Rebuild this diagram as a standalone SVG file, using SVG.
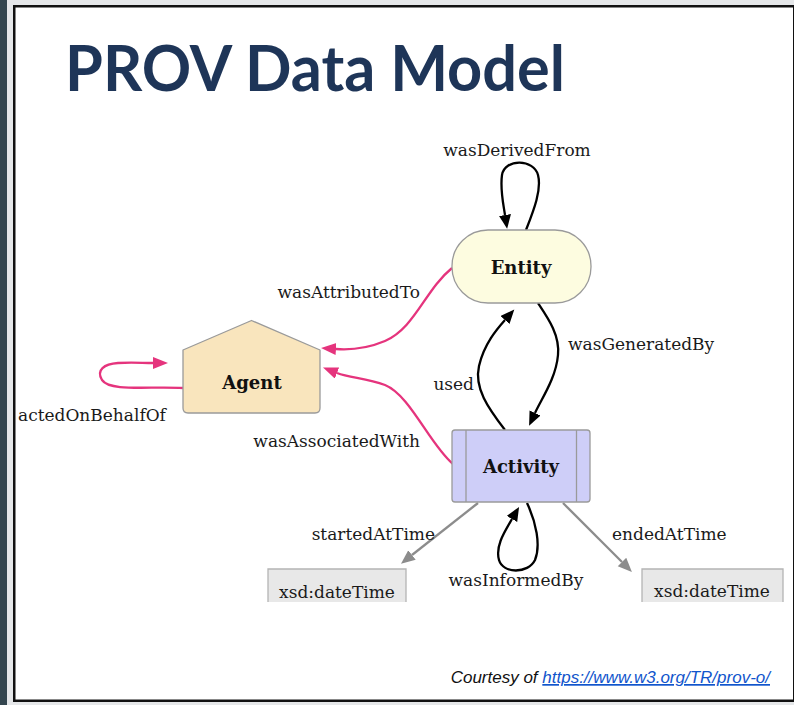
<svg xmlns="http://www.w3.org/2000/svg" width="794" height="705" viewBox="0 0 794 705">
  <defs>
    <style>
      .lbl { font-family: "DejaVu Serif", "Liberation Serif", serif; font-size: 17px; fill: #1a1a1a; }
      .node-lbl { font-family: "DejaVu Serif", "Liberation Serif", serif; font-size: 18px; font-weight: bold; fill: #111; text-anchor: middle; }
      .node { stroke: #9a9a9a; stroke-width: 1.3; }
      .e-black { fill: none; stroke: #000; stroke-width: 2.3; marker-end: url(#arrowBlack); }
      .e-pink { fill: none; stroke: #e5347d; stroke-width: 2.3; marker-end: url(#arrowPink); }
      .e-grey { fill: none; stroke: #8c8c8c; stroke-width: 2.3; marker-end: url(#arrowGrey); }
    </style>
    <marker id="arrowBlack" markerUnits="userSpaceOnUse" markerWidth="16" markerHeight="14" refX="0" refY="6" orient="auto">
      <path d="M0,0 L14,6 L0,12 z" fill="#000"/>
    </marker>
    <marker id="arrowPink" markerUnits="userSpaceOnUse" markerWidth="17" markerHeight="14" refX="0" refY="6" orient="auto">
      <path d="M0,0 L15,6 L0,12 z" fill="#e5347d"/>
    </marker>
    <marker id="arrowGrey" markerUnits="userSpaceOnUse" markerWidth="16" markerHeight="14" refX="0" refY="6" orient="auto">
      <path d="M0,0 L14,6 L0,12 z" fill="#8c8c8c"/>
    </marker>
  </defs>

  <!-- slide frame -->
  <rect x="0" y="0" width="794" height="705" fill="#e5e7e9"/>
  <rect x="0" y="0" width="7" height="705" fill="#34464f"/>
  <rect x="14.25" y="6.25" width="780" height="694.5" fill="#fff" stroke="#111" stroke-width="2.5"/>

  <!-- title -->
  <text x="65" y="91" font-family="Lato, 'Open Sans', sans-serif" font-weight="bold" font-size="64" fill="#1e3558" textLength="500" lengthAdjust="spacingAndGlyphs">PROV Data Model</text>

  <!-- connectors -->
  <g id="connectors">
    <path id="wasDerivedFrom" class="e-black" d="M526,230 C533,212 542,190 538,175 C534,159 505,158 502,175 C500,189 503,202 505,215"/>
    <path id="used" class="e-black" d="M505,430 C488,408 474,388 479,366 C484,344 497,329 505,320"/>
    <path id="wasGeneratedBy" class="e-black" d="M538,303 C548,318 560,335 558,355 C556,378 542,398 535,413"/>
    <path id="wasInformedBy" class="e-black" d="M527,503 C536,522 541,545 535,560 C528,574 503,574 499,560 C495,546 505,531 512,519"/>
    <path id="startedAtTime" class="e-grey" d="M478,503 L412,555"/>
    <path id="endedAtTime" class="e-grey" d="M563,503 L622,562"/>
    <path id="wasAttributedTo" class="e-pink" d="M452,268 C425,290 415,328 385,341 C366,349 350,350 336,349"/>
    <path id="wasAssociatedWith" class="e-pink" d="M453,464 C430,445 410,395 385,385 C366,378 350,378 337,373"/>
    <path id="actedOnBehalfOf" class="e-pink" d="M183,388 C150,386 110,392 102,380 C96,370 104,364 118,363 C132,362 142,363 153,363"/>

    <text class="lbl" x="517" y="156" text-anchor="middle">wasDerivedFrom</text>
    <text class="lbl" x="420" y="298" text-anchor="end">wasAttributedTo</text>
    <text class="lbl" x="420" y="447" text-anchor="end">wasAssociatedWith</text>
    <text class="lbl" x="474" y="390" text-anchor="end">used</text>
    <text class="lbl" x="568" y="350">wasGeneratedBy</text>
    <text class="lbl" x="18" y="421">actedOnBehalfOf</text>
    <text class="lbl" x="435" y="540" text-anchor="end">startedAtTime</text>
    <text class="lbl" x="612" y="540">endedAtTime</text>
    <text class="lbl" x="516" y="586" text-anchor="middle">wasInformedBy</text>
  </g>

  <!-- nodes -->
  <g id="entity">
    <rect class="node" x="452" y="230" width="139" height="73" rx="36" ry="36" fill="#fdfce0"/>
    <text class="node-lbl" x="521" y="274">Entity</text>
  </g>

  <g id="agent">
    <path class="node" d="M251.5,320.5 L320,350 L320,408 Q320,413 315,413 L188,413 Q183,413 183,408 L183,350 Z" fill="#f9e5bd" stroke-linejoin="round"/>
    <text class="node-lbl" x="252" y="389">Agent</text>
  </g>

  <g id="activity">
    <rect class="node" x="452" y="430" width="138" height="72" rx="3" fill="#cecef8"/>
    <line class="node" x1="466" y1="430" x2="466" y2="502"/>
    <line class="node" x1="576.5" y1="430" x2="576.5" y2="502"/>
    <text class="node-lbl" x="521" y="473">Activity</text>
  </g>

  <g id="startTime">
    <rect x="268" y="569" width="138" height="33" fill="#e8e8e8"/>
    <path d="M268,602 L268,569 L406,569 L406,602" fill="none" stroke="#b4b4b4" stroke-width="1.3"/>
    <text class="lbl" x="337" y="598" text-anchor="middle">xsd:dateTime</text>
  </g>

  <g id="endTime">
    <rect x="642" y="569" width="141" height="33" fill="#e8e8e8"/>
    <path d="M642,602 L642,569 L783,569 L783,602" fill="none" stroke="#b4b4b4" stroke-width="1.3"/>
    <text class="lbl" x="712" y="597" text-anchor="middle">xsd:dateTime</text>
  </g>

  <!-- credit line -->
  <text x="770" y="683" text-anchor="end" font-family="'Liberation Sans', Arial, sans-serif" font-style="italic" font-size="17" fill="#111">Courtesy of <tspan fill="#1155cc" text-decoration="underline">https://www.w3.org/TR/prov-o/</tspan></text>
</svg>
